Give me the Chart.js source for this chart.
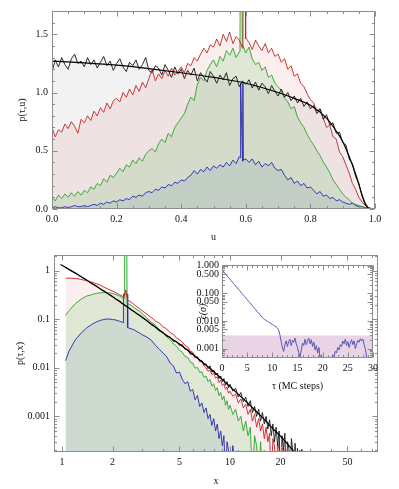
<!DOCTYPE html>
<html>
<head>
<meta charset="utf-8">
<script src="https://cdn.jsdelivr.net/npm/chart.js@4.4.1/dist/chart.umd.min.js"></script>
<style>
  html, body { margin: 0; padding: 0; background: #fff; }
  #wrap { position: relative; width: 399px; height: 489px; }
  canvas { position: absolute; }
  #top { left: 0; top: 0; }
  #bot { left: 0; top: 245px; }
  #ins { left: 190px; top: 255px; }
</style>
</head>
<body>
<div id="wrap">
  <canvas id="top" width="399" height="245"></canvas>
  <canvas id="bot" width="399" height="244"></canvas>
  <canvas id="ins" width="209" height="140"></canvas>
</div>
<script>
// ── Top panel: p(tau,u), sampled every 0.01 in u ──
const U_STEP = 0.01;
const P_BLACK = [
  1.18, 1.28, 1.22, 1.30, 1.24, 1.20, 1.29, 1.33, 1.25, 1.27, 1.22,
  1.30, 1.24, 1.28, 1.21, 1.26, 1.31, 1.23, 1.27, 1.19, 1.25,
  1.29, 1.22, 1.18, 1.26, 1.23, 1.28, 1.20, 1.24, 1.30, 1.19,
  1.17, 1.23, 1.21, 1.15, 1.24, 1.19, 1.13, 1.22, 1.16, 1.20,
  1.12, 1.19, 1.15, 1.21, 1.10, 1.17, 1.13, 1.09, 1.18, 1.14,
  1.08, 1.15, 1.11, 1.17, 1.06, 1.12, 1.14, 1.05, 1.10, 1.07,
  1.11, 1.04, 1.09, 1.02, 1.08, 1.05, 0.99, 1.06, 1.01, 0.97,
  1.03, 0.96, 1.00, 0.93, 0.97, 0.91, 0.95, 0.88, 0.92, 0.86,
  0.89, 0.82, 0.86, 0.77, 0.81, 0.72, 0.74, 0.65, 0.66, 0.57,
  0.55, 0.43, 0.39, 0.28, 0.22, 0.11, 0.05, 0.01, 0, 0
];
const P_RED = [
  0.70, 0.62, 0.68, 0.66, 0.73, 0.69, 0.75, 0.71, 0.65, 0.77, 0.74,
  0.80, 0.76, 0.84, 0.80, 0.87, 0.83, 0.91, 0.86, 0.93, 0.95,
  0.92, 1.00, 0.96, 1.03, 0.98, 1.06, 1.01, 1.09, 1.04, 1.12,
  1.20, 1.10, 1.16, 1.12, 1.19, 1.14, 1.21, 1.15, 1.18, 1.22,
  1.17, 1.25, 1.23, 1.30, 1.27, 1.33, 1.38, 1.34, 1.41, 1.39,
  1.46, 1.40, 1.50, 1.44, 1.52, 1.42, 1.48, 1.45, 1.38, 1.47,
  1.43, 1.37, 1.45, 1.40, 1.36, 1.42, 1.34, 1.38, 1.31, 1.33,
  1.26, 1.29, 1.20, 1.23, 1.14, 1.16, 1.08, 1.05, 0.99, 0.94,
  0.91, 0.84, 0.86, 0.78, 0.70, 0.72, 0.62, 0.60, 0.49, 0.45,
  0.38, 0.31, 0.22, 0.17, 0.10, 0.06, 0.03, 0.01, 0, 0
];
const P_GREEN = [
  0.10, 0.07, 0.12, 0.09, 0.13, 0.10, 0.14, 0.11, 0.15, 0.12, 0.16,
  0.14, 0.19, 0.17, 0.22, 0.20, 0.26, 0.23, 0.29, 0.27, 0.31,
  0.35, 0.32, 0.38, 0.36, 0.42, 0.39, 0.44, 0.41, 0.47, 0.50,
  0.52, 0.49, 0.56, 0.60, 0.57, 0.65, 0.62, 0.70, 0.74, 0.78,
  0.82, 0.90, 0.96, 0.93, 1.07, 1.13, 1.10, 1.19, 1.24, 1.28,
  1.22, 1.31, 1.27, 1.36, 1.32, 1.38, 1.30, 1.35, 1.41, 1.34,
  1.39, 1.29, 1.24, 1.26, 1.19, 1.22, 1.13, 1.15, 1.08, 1.05,
  1.02, 0.95, 0.92, 0.86, 0.88, 0.79, 0.74, 0.70, 0.64, 0.59,
  0.55, 0.50, 0.46, 0.40, 0.36, 0.31, 0.25, 0.21, 0.17, 0.13,
  0.10, 0.08, 0.05, 0.04, 0.03, 0.02, 0.01, 0.005, 0, 0
];
const P_BLUE = [
  0.01, 0.02, 0.01, 0.01, 0.02, 0.01, 0.02, 0.03, 0.02, 0.02, 0.03,
  0.02, 0.03, 0.04, 0.03, 0.05, 0.04, 0.06, 0.05, 0.07, 0.06,
  0.08, 0.07, 0.09, 0.08, 0.11, 0.10, 0.12, 0.11, 0.14, 0.15,
  0.14, 0.17, 0.16, 0.19, 0.18, 0.21, 0.20, 0.23, 0.22, 0.25,
  0.24, 0.27, 0.29, 0.33, 0.30, 0.34, 0.32, 0.36, 0.33, 0.37,
  0.35, 0.38, 0.36, 0.40, 0.37, 0.42, 0.39, 0.45, 0.41, 0.43,
  0.40, 0.43, 0.38, 0.41, 0.36, 0.39, 0.37, 0.40, 0.35, 0.33,
  0.34, 0.29, 0.25, 0.27, 0.22, 0.24, 0.20, 0.22, 0.18, 0.19,
  0.16, 0.13, 0.15, 0.11, 0.12, 0.09, 0.10, 0.07, 0.08, 0.06,
  0.05, 0.04, 0.05, 0.03, 0.02, 0.02, 0.01, 0.01, 0.005, 0
];
// narrow spikes near u = 0.59
const SPK_GREEN_U = [0.582, 0.583, 0.588, 0.589], SPK_GREEN_P = [1.36, 2.5, 2.5, 1.40];
const SPK_RED_U   = [0.591, 0.592, 0.598, 0.599], SPK_RED_P   = [1.39, 2.5, 2.5, 1.46];
const SPK_BLUE_U  = [0.583, 0.584, 0.591, 0.592], SPK_BLUE_P  = [0.44, 1.08, 1.08, 0.42];
// smooth stationary curve
const THEORY_U = [0, 0.1, 0.2, 0.3, 0.4, 0.5, 0.6, 0.7, 0.75, 0.8, 0.85, 0.88, 0.9, 0.92, 0.94, 0.96, 0.97, 0.98];
const THEORY_P = [1.27, 1.255, 1.235, 1.205, 1.17, 1.13, 1.08, 1.0, 0.95, 0.89, 0.78, 0.67, 0.58, 0.45, 0.30, 0.12, 0.04, 0];

// ── Bottom panel: p(tau,x), log-log ──
const XB = [
  1.05, 1.1, 1.2, 1.3, 1.4, 1.5, 1.6, 1.7, 1.8, 1.9, 2.0, 2.1, 2.2, 2.3, 2.5, 2.6, 2.7, 2.8, 2.9, 3.0,
  3.2, 3.4, 3.6, 3.8, 4.0, 4.2, 4.4, 4.6, 4.8, 5.0,
  5.2, 5.4, 5.6, 5.8, 6.0, 6.2, 6.4, 6.6, 6.8, 7.0,
  7.2, 7.4, 7.6, 7.8, 8.0, 8.2, 8.4, 8.6, 8.8, 9.0,
  9.2, 9.4, 9.6, 9.8, 10.0,
  10.4, 10.8, 11.2, 11.6, 12.0, 12.4, 12.8, 13.2, 13.6, 14.0,
  14.4, 14.8, 15.2, 15.6, 16.0, 16.4, 16.8, 17.2, 17.6, 18.0,
  18.4, 18.8, 19.2, 19.6, 20.0, 20.4, 20.8, 21.2, 21.6, 22.0,
  22.4, 22.8, 23.2, 23.6, 24.0, 24.4, 24.8, 25.2, 25.6, 26.0,
  26.4, 26.8, 27.2, 27.6, 28.0
];
const PX_BLACK = [
  1.18, 1.05, 0.90, 0.74, 0.65, 0.54, 0.49, 0.41, 0.375, 0.325, 0.295, 0.255, 0.24, 0.205, 0.172, 0.152, 0.143, 0.127, 0.122, 0.108,
  0.095, 0.077, 0.070, 0.057, 0.054, 0.044, 0.043, 0.035, 0.035, 0.029,
  0.030, 0.024, 0.024, 0.019, 0.0195, 0.016, 0.0168, 0.0135, 0.0142, 0.0114,
  0.0121, 0.0096, 0.0110, 0.0081, 0.0090, 0.0071, 0.0078, 0.0060, 0.0068, 0.0052,
  0.0060, 0.0044, 0.0052, 0.0039, 0.0046,
  0.0033, 0.0038, 0.0025, 0.0031, 0.0020, 0.0025, 0.0016, 0.0021, 0.0012, 0.0016,
  0.0010, 0.0014, 0.0008, 0.0012, 0.0007, 0.0010, 0.00055, 0.00085, 0.0004, 0.0007,
  0.0003, 0.0006, 0.00025, 0.0005, 0.00005, 0.0004, 0.0002, 0.00045, 0.00005, 0.0003,
  0.00022, 0.00005, 0.00035, 0.0002, 0.00005, 0.00028, 0.00005, 0.00022, 0.00005, 0.0002,
  0.00005, 0.00021, 0.00005, 0.00005, 0.00019
];
const PX_RED = [
  0.70, 0.70, 0.69, 0.66, 0.62, 0.58, 0.54, 0.50, 0.45, 0.41, 0.38, 0.35, 0.32, 0.295,
  0.24, 0.22, 0.20, 0.18, 0.165, 0.15,
  0.128, 0.109, 0.092, 0.083, 0.070, 0.063, 0.053, 0.049, 0.041, 0.038,
  0.034, 0.029, 0.027, 0.022, 0.021, 0.017, 0.0165, 0.014, 0.0135, 0.011,
  0.0100, 0.0085, 0.0090, 0.0072, 0.0078, 0.0061, 0.0066, 0.0050, 0.0056, 0.0043,
  0.0047, 0.0036, 0.0040, 0.0030, 0.0033,
  0.0026, 0.0029, 0.0019, 0.0023, 0.0015, 0.0018, 0.0011, 0.0014, 0.0008, 0.0011,
  0.0006, 0.0009, 0.0005, 0.0007, 0.00035, 0.0006, 0.0003, 0.00045, 0.00005, 0.00035,
  0.00025, 0.00005, 0.0003, 0.0002, 0.00005, 0.00022, 0.00005, 0.0002, 0.00005, 0.00005
];
const PX_GREEN = [
  0.12, 0.15, 0.21, 0.26, 0.30, 0.32, 0.34, 0.35, 0.355, 0.35, 0.34, 0.32, 0.30, 0.275,
  0.205, 0.19, 0.172, 0.158, 0.145, 0.13,
  0.106, 0.087, 0.075, 0.061, 0.053, 0.043, 0.038, 0.031, 0.028, 0.023,
  0.021, 0.017, 0.0165, 0.013, 0.0125, 0.0098, 0.0102, 0.0080, 0.0083, 0.0064,
  0.0068, 0.0052, 0.0058, 0.0042, 0.0047, 0.0034, 0.0039, 0.0027, 0.0031, 0.0022,
  0.0026, 0.0017, 0.0021, 0.0014, 0.0017,
  0.0011, 0.0014, 0.0008, 0.0010, 0.0005, 0.0008, 0.0004, 0.0006, 0.00005, 0.0004,
  0.00025, 0.00005, 0.0003, 0.00005, 0.0002, 0.00005
];
const PX_BLUE = [
  0.014, 0.022, 0.038, 0.052, 0.066, 0.078, 0.088, 0.095, 0.100, 0.101, 0.099, 0.096, 0.091, 0.086,
  0.066, 0.063, 0.060, 0.055, 0.052, 0.048,
  0.043, 0.037, 0.029, 0.024, 0.020, 0.017, 0.0125, 0.011, 0.0078, 0.0082,
  0.0058, 0.0047, 0.0052, 0.0033, 0.0036, 0.0022, 0.0027, 0.0016, 0.0019, 0.0012,
  0.0015, 0.0009, 0.0011, 0.00065, 0.0009, 0.0005, 0.0007, 0.00035, 0.0005, 0.00025,
  0.0004, 0.00005, 0.0003, 0.0002, 0.00005,
  0.00025, 0.00005, 0.0002
];
const SPKX_GREEN_X = [2.35, 2.36, 2.43, 2.44], SPKX_GREEN_P = [0.27, 3, 3, 0.21];
const SPKX_RED_X   = [2.33, 2.40, 2.45],       SPKX_RED_P   = [0.29, 0.40, 0.25];
const SPKX_BLUE_X  = [2.31, 2.32, 2.45, 2.46], SPKX_BLUE_P  = [0.085, 0.33, 0.33, 0.067];
const THEORY_X  = [0.98, 1.2, 1.5, 2, 2.5, 3, 4, 5, 6, 7, 8, 10, 12, 14, 16, 18, 20, 22, 24, 26, 28];
const THEORY_PX = [1.34, 0.89, 0.55, 0.29, 0.17, 0.11, 0.052, 0.031, 0.019, 0.0123, 0.0084, 0.0041, 0.0023,
                   0.00137, 0.00087, 0.00056, 0.00039, 0.00027, 0.00019, 0.00013, 0.00009];

// ── Inset: error vs MC steps, every 0.25 ──
const TAU_STEP = 0.25;
const EPS = [
  0.70, 0.62, 0.55, 0.485, 0.43, 0.38, 0.335, 0.295, 0.26, 0.23,
  0.205, 0.18, 0.16, 0.141, 0.125, 0.11, 0.097, 0.086, 0.076, 0.067,
  0.059, 0.052, 0.046, 0.041, 0.036, 0.032, 0.028, 0.025, 0.022, 0.0195,
  0.0172, 0.0152, 0.0134, 0.0120, 0.0112, 0.0104, 0.0097, 0.0092, 0.0086, 0.0080,
  0.0075, 0.0070, 0.0066, 0.0061, 0.0056, 0.0048, 0.0032,
  0.0018, 0.0011,
  0.0008, 0.0014, 0.0019, 0.0012, 0.0018, 0.0022, 0.0013, 0.0020, 0.0017, 0.0024, 0.0015, 0.0011,
  0.0007, 0.0005, 0.0009, 0.0016, 0.0013, 0.0022, 0.0014, 0.0019, 0.0024, 0.0015, 0.0021, 0.0012,
  0.0017, 0.0009, 0.0013, 0.0007, 0.0011, 0.0004, 0.0006, 0.0003, 0.0004, 0.0003, 0.0005, 0.0004,
  0.0003, 0.0005, 0.0004, 0.0006, 0.0005, 0.0008, 0.0007, 0.0011, 0.0009, 0.0014, 0.0012, 0.0019,
  0.0015, 0.0022, 0.0013, 0.0018, 0.0011, 0.0016, 0.0021, 0.0014, 0.0019, 0.0010, 0.0015, 0.0020,
  0.0017, 0.0023, 0.0019, 0.0022, 0.0014, 0.0009, 0.0005, 0.0003, 0.0003, 0.0004, 0.0004, 0.0009
];
const BAND_LEVEL = 0.003;
const BAND_TAU = [0, 30];

// ── Styling ──
const FRAME   = '#8c8c8c';
const C_BLACK = '#151515', C_RED = '#c42424', C_GREEN = '#26a626', C_BLUE = '#2626b0', C_INSET = '#5b55b6';
const F_BLACK = 'rgba(0,0,0,0.05)';
const F_RED   = 'rgba(200,40,40,0.08)';
const F_GREEN = 'rgba(110,220,120,0.2)';
const F_BLUE  = 'rgba(60,110,200,0.13)';
const F_BAND  = '#e8d4e4';

Chart.defaults.font.family = "'Liberation Serif', 'DejaVu Serif', serif";
Chart.defaults.font.size = 10;
Chart.defaults.color = '#111';
Chart.defaults.animation = false;

const pts = (xs, ys) => ys.map((y, i) => ({ x: xs[i], y }));
const withSpike = (base, sx, sy) => base.concat(pts(sx, sy)).sort((a, b) => a.x - b.x);
const U   = P_BLACK.map((_, i) => +(i * U_STEP).toFixed(3));
const TAU = EPS.map((_, i) => i * TAU_STEP);

function linTicks(min, max, step, every) {
  const out = [];
  const n = Math.round((max - min) / step);
  for (let i = 0; i <= n; i++) out.push({ value: +(min + i * step).toFixed(4), mj: i % every === 0 });
  return out;
}
function logTicks(min, max, majors) {
  const out = [];
  for (let e = Math.floor(Math.log10(min)); e <= Math.ceil(Math.log10(max)); e++) {
    for (let m = 1; m < 10; m++) {
      const v = +(m * Math.pow(10, e)).toPrecision(6);
      if (v >= min && v <= max) out.push({ value: v, mj: majors.includes(v) });
    }
  }
  return out;
}

function axis(o) {
  return {
    type: o.type, min: o.min, max: o.max, bounds: 'data',
    grid: { display: false, drawTicks: false },
    border: { display: false },
    afterBuildTicks: s => { s.ticks = o.ticks.map(t => ({ ...t })); },
    afterFit: s => { if (s.isHorizontal()) s.height = o.size; else s.width = o.size; },
    ticks: {
      autoSkip: false, maxRotation: 0, minRotation: 0, padding: o.pad,
      callback: (v, i, t) => (t[i] && t[i].mj ? o.fmt(v) : '')
    },
    title: {
      display: true, text: o.title, padding: o.titlePad,
      font: { size: 10, style: o.italic ? 'italic' : 'normal' }
    }
  };
}

// frame with inward ticks on all four sides (Mathematica style)
const frameTicks = {
  id: 'frameTicks',
  afterDraw(chart) {
    const { ctx, chartArea: a, scales } = chart;
    const L = Math.round(a.left) + 0.5, R = Math.round(a.right) - 0.5;
    const T = Math.round(a.top) + 0.5, B = Math.round(a.bottom) - 0.5;
    ctx.save();
    ctx.strokeStyle = FRAME;
    ctx.lineWidth = 1;
    ctx.beginPath();
    for (const t of scales.x.ticks) {
      const p = Math.round(scales.x.getPixelForValue(t.value)) + 0.5;
      const len = t.mj ? 5 : 2.5;
      ctx.moveTo(p, B); ctx.lineTo(p, B - len);
      ctx.moveTo(p, T); ctx.lineTo(p, T + len);
    }
    for (const t of scales.y.ticks) {
      const p = Math.round(scales.y.getPixelForValue(t.value)) + 0.5;
      const len = t.mj ? 5 : 2.5;
      ctx.moveTo(L, p); ctx.lineTo(L + len, p);
      ctx.moveTo(R, p); ctx.lineTo(R - len, p);
    }
    ctx.stroke();
    ctx.strokeRect(L, T, R - L, B - T);
    ctx.restore();
  }
};

const whiteArea = {
  id: 'whiteArea',
  beforeDraw(chart) {
    const { ctx, chartArea: a } = chart;
    ctx.save();
    ctx.fillStyle = '#fff';
    ctx.fillRect(a.left, a.top, a.right - a.left, a.bottom - a.top);
    ctx.restore();
  }
};

const line = (data, color, width, fill, bg, extra) => Object.assign({
  data, borderColor: color, borderWidth: width, pointRadius: 0, tension: 0,
  borderJoinStyle: 'round', fill: fill, backgroundColor: bg || 'transparent'
}, extra || {});

const common = {
  responsive: false,
  maintainAspectRatio: false,
  parsing: true,
  plugins: { legend: { display: false }, tooltip: { enabled: false }, filler: { drawTime: 'beforeDatasetsDraw' } }
};

// Top chart
new Chart(document.getElementById('top'), {
  type: 'line',
  data: {
    datasets: [
      line(pts(THEORY_U, THEORY_P), '#000', 1.2, false, null, { cubicInterpolationMode: 'monotone' }),
      line(pts(U, P_BLACK), C_BLACK, 0.9, 'origin', F_BLACK),
      line(withSpike(pts(U, P_RED), SPK_RED_U, SPK_RED_P), C_RED, 0.9, 'origin', F_RED),
      line(withSpike(pts(U, P_GREEN), SPK_GREEN_U, SPK_GREEN_P), C_GREEN, 0.9, 'origin', F_GREEN),
      line(withSpike(pts(U, P_BLUE), SPK_BLUE_U, SPK_BLUE_P), C_BLUE, 0.9, 'origin', F_BLUE)
    ]
  },
  options: {
    ...common,
    layout: { padding: { left: 0, right: 24, top: 11, bottom: 0 } },
    scales: {
      x: axis({ type: 'linear', min: 0, max: 1, ticks: linTicks(0, 1, 0.05, 4), fmt: v => v.toFixed(1),
                size: 36, pad: 4, title: 'u', titlePad: { top: 0, bottom: 2 } }),
      y: axis({ type: 'linear', min: 0, max: 1.7, ticks: linTicks(0, 1.7, 0.1, 5), fmt: v => v.toFixed(1),
                size: 52, pad: 4, title: 'p(τ,u)', titlePad: { top: 16, bottom: 0 } })
    }
  },
  plugins: [frameTicks]
});

// Bottom chart
const BX_MIN = 0.896, BX_MAX = 76, BY_MIN = 1.85e-4, BY_MAX = 2.1;
new Chart(document.getElementById('bot'), {
  type: 'line',
  data: {
    datasets: [
      line(pts(THEORY_X, THEORY_PX), '#000', 1.2, false),
      line(pts(XB, PX_BLACK), C_BLACK, 0.9, false),
      line(withSpike(pts(XB, PX_RED), SPKX_RED_X, SPKX_RED_P), C_RED, 0.9, 'start', F_RED),
      line(withSpike(pts(XB, PX_GREEN), SPKX_GREEN_X, SPKX_GREEN_P), C_GREEN, 0.9, 'start', F_GREEN),
      line(withSpike(pts(XB, PX_BLUE), SPKX_BLUE_X, SPKX_BLUE_P), C_BLUE, 0.9, 'start', F_BLUE)
    ]
  },
  options: {
    ...common,
    layout: { padding: { left: 0, right: 21, top: 8, bottom: 0 } },
    scales: {
      x: axis({ type: 'logarithmic', min: BX_MIN, max: BX_MAX, ticks: logTicks(BX_MIN, BX_MAX, [1, 2, 5, 10, 20, 50]),
                fmt: v => String(v), size: 37, pad: 4, title: 'x', titlePad: { top: 0, bottom: 2 } }),
      y: axis({ type: 'logarithmic', min: BY_MIN, max: BY_MAX, ticks: logTicks(BY_MIN, BY_MAX, [0.001, 0.01, 0.1, 1]),
                fmt: v => String(v), size: 54, pad: 4, title: 'p(τ,x)', titlePad: { top: 14, bottom: 0 } })
    }
  },
  plugins: [frameTicks]
});

// Inset chart
const IY_MIN = 4.6e-4, IY_MAX = 1.05;
new Chart(document.getElementById('ins'), {
  type: 'line',
  data: {
    datasets: [
      line(pts(TAU, EPS), C_INSET, 1, false),
      line(pts(BAND_TAU, [BAND_LEVEL, BAND_LEVEL]), 'transparent', 0, 'start', F_BAND)
    ]
  },
  options: {
    ...common,
    layout: { padding: { left: 0, right: 26, top: 10, bottom: 0 } },
    scales: {
      x: axis({ type: 'linear', min: 0, max: 30, ticks: linTicks(0, 30, 1, 5), fmt: v => String(v),
                size: 37, pad: 4, title: 'τ (MC steps)', titlePad: { top: 0, bottom: 3 } }),
      y: axis({ type: 'logarithmic', min: IY_MIN, max: IY_MAX,
                ticks: logTicks(IY_MIN, IY_MAX, [0.001, 0.005, 0.01, 0.05, 0.1, 0.5, 1]),
                fmt: v => v.toFixed(3), size: 32, pad: 3, title: 'ϵ(σ)', italic: true, titlePad: { top: 7, bottom: 0 } })
    }
  },
  plugins: [whiteArea, frameTicks]
});
</script>
</body>
</html>
